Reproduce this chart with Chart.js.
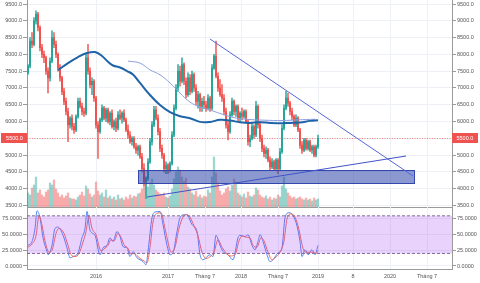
<!DOCTYPE html>
<html><head><meta charset="utf-8">
<script src="https://cdn.jsdelivr.net/npm/chart.js@4"></script>
<style>
html,body{margin:0;padding:0;background:#fff;}
#wrap{position:relative;width:480px;height:283px;overflow:hidden;background:#fff;}
#a{position:absolute;left:0;top:0;}
#b{position:absolute;left:0;top:207px;}
</style></head><body>
<div id="wrap"><canvas id="a" width="480" height="208"></canvas><canvas id="b" width="480" height="76"></canvas></div>
<script>
// ---------- data ----------
const opens=[7450,7650,8400,8300,9000,9200,8800,8200,8000,7900,
7500,7300,7800,8500,8300,8000,7600,7300,6900,6600,
6300,5900,6100,5850,5750,6150,6600,6450,6300,6250,
7900,7500,7100,7200,6700,5900,5700,6050,6400,6100,
6350,6000,6250,5850,6000,5800,6200,6100,6250,6050,
5750,5600,5400,5500,5250,5150,5250,4950,4600,4200,
4300,4800,5400,5900,6350,6100,5700,5200,5000,4600,
4700,4550,4750,5600,6400,7000,7500,7200,7700,7200,
6800,7300,6900,7400,7000,6600,6800,6450,6600,6500,
6400,6700,6400,7600,7950,7350,7000,6800,6700,6300,
5900,5700,6200,6600,6300,6450,6100,6250,6150,6300,
6000,5400,5500,5850,5600,6450,5900,5500,5200,5050,
5150,4850,4650,4800,4600,4850,4600,5100,5800,6400,
6700,6550,6300,6150,5900,6100,5750,5300,5150,5450,
5200,5400,5150,5250,5000,5250];
const highs=[7700,8500,8650,9100,9300,9250,8850,8300,8100,7950,
7600,7900,8700,8650,8400,8050,7700,7350,7000,6700,
6400,6150,6200,5950,6200,6700,6700,6550,6400,8000,
8300,7600,7300,7250,6750,6000,6100,6500,6450,6400,
6400,6300,6350,6050,6100,6300,6350,6300,6350,6100,
5900,5700,5550,5550,5350,5300,5300,5050,4750,4350,
4900,5500,6000,6450,6450,6200,5800,5300,5050,4800,
4750,4800,5700,6500,7100,7700,7650,7900,7750,7300,
7450,7400,7500,7450,7100,6900,6850,6700,6750,6600,
6800,6750,7700,8000,8400,7450,7250,7100,6800,6400,
6000,6300,6700,6650,6500,6500,6300,6400,6350,6350,
6050,5600,5950,5900,6600,6500,6000,5600,5300,5250,
5200,4950,4900,4850,4900,4900,5200,5900,6500,6900,
6850,6600,6400,6200,6200,6150,5800,5400,5500,5500,
5450,5450,5300,5300,5300,5600];
const lows=[7400,7600,8200,8250,8900,8700,8100,7900,7750,7400,
6850,7200,7750,8200,7900,7500,7200,6800,6500,6200,
5400,5800,5750,5650,5700,6100,6400,6200,6150,6200,
7400,7000,6800,6600,5800,4900,5650,6000,6050,6000,
5950,5900,5800,5750,5700,5750,6050,5950,6000,5700,
5500,5350,5300,5200,5050,5000,4900,4500,4100,3700,
4250,4750,5300,5850,6050,5600,5100,4900,4500,4450,
4450,4500,4700,5550,6350,6900,7050,7150,7100,6700,
6750,6800,6850,6900,6500,6400,6300,6300,6400,6300,
6350,6300,6350,7550,7300,6900,6750,6600,6200,5800,
5450,5650,6150,6200,6150,6000,6000,6050,6100,5950,
5300,5250,5450,5500,5550,5800,5400,5100,4950,4900,
4800,4550,4600,4550,4550,4450,4550,5050,5750,6350,
6450,6200,6050,5850,5850,5700,5200,5050,5100,5150,
5150,5100,5050,4950,4950,5200];
const closes=[7650,8400,8300,9000,9200,8800,8200,8000,7900,7500,
7300,7800,8500,8300,8000,7600,7300,6900,6600,6300,
5900,6100,5850,5750,6150,6600,6450,6300,6250,7900,
7500,7100,7200,6700,5900,5700,6050,6400,6100,6350,
6000,6250,5850,6000,5800,6200,6100,6250,6050,5750,
5600,5400,5500,5250,5150,5250,4950,4600,4200,4300,
4800,5400,5900,6350,6100,5700,5200,5000,4600,4700,
4550,4750,5600,6400,7000,7500,7200,7700,7200,6800,
7300,6900,7400,7000,6600,6800,6450,6600,6500,6400,
6700,6400,7600,7950,7350,7000,6800,6700,6300,5900,
5700,6200,6600,6300,6450,6100,6250,6150,6300,6000,
5400,5500,5850,5600,6450,5900,5500,5200,5050,5150,
4850,4650,4800,4600,4850,4600,5100,5800,6400,6700,
6550,6300,6150,5900,6100,5750,5300,5150,5450,5200,
5400,5150,5250,5000,5250,5500];
const volumes=[1.4,1.2,1.9,2.2,3.0,1.4,1.7,1.2,1.0,1.5,
1.7,2.4,2.2,2.7,1.8,1.4,1.0,1.2,0.9,1.1,
1.4,0.9,0.8,0.8,0.7,1.0,1.2,1.5,1.1,2.1,
1.8,1.3,1.0,1.2,2.5,1.6,1.2,1.4,1.0,1.7,
0.9,1.1,0.8,1.0,0.7,1.2,0.8,0.9,0.7,1.0,
0.8,1.2,0.9,1.1,1.0,1.3,1.4,1.8,2.2,2.7,
2.0,2.4,2.8,2.2,1.7,1.5,1.3,1.2,1.4,1.0,
0.9,1.1,1.8,2.8,3.5,4.0,3.7,3.0,2.6,2.9,
2.0,1.8,1.4,1.2,1.6,1.0,1.2,0.9,1.1,1.0,
1.7,1.4,3.0,5.0,3.4,2.4,1.6,1.2,1.4,1.8,
2.0,1.6,2.2,2.8,2.5,1.4,1.2,1.0,1.3,0.9,
1.5,1.1,1.0,1.2,1.9,1.7,1.2,1.0,0.9,1.1,
0.8,1.0,0.7,0.9,0.8,1.2,1.0,2.1,3.0,1.8,
1.4,1.1,0.9,1.0,0.8,0.9,1.0,0.8,0.7,0.9,
0.7,0.8,0.6,0.9,0.7,0.8];

const maIdx=[15,20,25,29.5,33.5,37,40,42.5,46,49.5,52.5,56,61,66,71,76,81,86,91,96,101,106,111,116,121,126,131,136,141,145];
const maVal=[7535,7740,7920,8040,8070,7950,7780,7670,7610,7505,7400,7150,6790,6490,6280,6160,6100,5990,5990,6050,6030,5980,5960,5980,5960,5950,5960,5970,6020,6040];
const thinIdx=[50,56,61,66,71,76,81,86,91,98.5,103.5,111,118.5,127,135,143.5];
const thinVal=[7800,7740,7540,7390,7150,6850,6580,6430,6340,6195,6110,6060,6040,6030,6050,6070];

const kIdx=[0,2,3.5,4.5,6,7.5,9.5,10,12,13.5,15,17.5,19.5,21,22.5,25,27,28.5,29.5,31,33.5,36,37.5,39.5,41,42.5,44.5,46,47.5,49.5,51,52.5,54.5,56,57.5,59,60,62,63.5,66,67.5,69.5,71,72.5,74.5,76,78.5,80,82,84.5,86,87.5,91,92.5,94,96,97.5,100,102.5,105,106,108.5,110,112,113.5,115,116,117.5,119.5,121,122.5,125,127,128.5,130.5,132.5,134.5,136,137,138.5,140,142,143.5,145];
const kVal=[33,39,60,88,77,45,23,18,33,60,62,49,29,13,15,21,45,60,87,57,49,18,29,33,45,39,55,47,31,29,15,23,13,10,7,2,23,77,86,87,66,33,18,21,55,77,82,80,66,55,18,10,18,15,49,33,23,18,10,45,49,47,50,33,26,39,50,39,18,7,10,21,29,77,85,80,64,39,15,26,18,26,18,33];
const dIdx=[0,2,4,5.5,7,8.5,10.5,12,14,15.5,18,20,21.5,23.5,25.5,27.5,29,30.5,32,34,36.5,38,40,41.5,43,45,46.5,48,50,51.5,53,55,56.5,58,59.5,61,62.5,64.5,66.5,68.5,70,71.5,73.5,75.5,77.5,79.5,81,83,85,87,89,91.5,93,95,97,99,101,103.5,105.5,107,109,111,112.5,114.5,116.5,118,120,122,123.5,126,128,129.5,131.5,133.5,135.5,137.5,139,140.5,142.5,144,145];
const dVal=[30,35,48,80,65,40,22,25,52,60,52,33,18,15,20,38,55,80,60,50,24,27,33,42,40,52,46,34,28,19,20,15,11,8,5,30,70,84,85,60,38,22,30,60,78,82,78,64,48,22,12,16,22,42,30,21,16,18,40,48,46,45,33,30,45,40,22,10,13,22,40,75,83,78,58,28,22,22,22,20,25];

const xTickIdx=[34,70,88.5,106.5,125,145,162.5,181,199.5];
const xTickLabels=['2016','2017','Tháng 7','2018','Tháng 7','2019','8','2020','Tháng 7'];
const priceTicks=[3500,4000,4500,5000,5500,6000,6500,7000,7500,8000,8500,9000,9500];
const stochTicks=[0,25,50,75];
const trendDown=[[91,8458],[192.5,4378]];
const trendUp=[[59.5,3752],[189,4973]];
const zoneBox={x0:55,x1:193,lo:4169,hi:4557};
const stochBand=[20,80];

// ---------- config ----------
Chart.defaults.font.family="'Liberation Sans', Arial, sans-serif";
Chart.defaults.font.size=5.5;
Chart.defaults.color='#555';

const X_MIN=-0.5, X_MAX=212;
const UP='#26a69a', DOWN='#ef5350';
const GRID='#edf1f5', AXIS='#9a9a9a';
const isUp=i=>closes[i]>=opens[i];
const fixY=w=>s=>{s.width=w;s.paddingTop=0;s.paddingBottom=0;};

function yAxis(pos,min,max,ticks,fmt){
  return {
    position:pos,min:min,max:max,
    afterBuildTicks:s=>{s.ticks=ticks.map(v=>({value:v}));},
    ticks:{callback:v=>v.toFixed(fmt),padding:1,color:'#555'},
    grid:{color:GRID,tickLength:4,tickColor:AXIS,drawOnChartArea:pos==='left'},
    border:{display:true,color:AXIS},
    afterFit:fixY(pos==='left'?27:28)
  };
}

const overlayA={
  id:'overlayA',
  beforeDatasetsDraw(chart){
    const {ctx,chartArea:a,scales}=chart;
    const py=scales.y.getPixelForValue(closes[closes.length-1]);
    ctx.save();
    ctx.strokeStyle='rgba(239,83,80,0.7)';ctx.lineWidth=1;ctx.setLineDash([1,1.5]);
    ctx.beginPath();ctx.moveTo(a.left,Math.round(py)+0.5);ctx.lineTo(a.right,Math.round(py)+0.5);ctx.stroke();
    ctx.restore();
  },
  afterDatasetDraw(chart,args){
    if(args.index!==4)return;
    const {ctx,scales}=chart;
    const x0=scales.x.getPixelForValue(zoneBox.x0),x1=scales.x.getPixelForValue(zoneBox.x1);
    const y0=scales.y.getPixelForValue(zoneBox.hi),y1=scales.y.getPixelForValue(zoneBox.lo);
    ctx.save();
    ctx.fillStyle='rgba(45,70,170,0.55)';
    ctx.fillRect(x0,y0,x1-x0,y1-y0);
    ctx.strokeStyle='#3347ad';ctx.lineWidth=1;
    ctx.strokeRect(Math.round(x0)+0.5,Math.round(y0)+0.5,Math.round(x1-x0),Math.round(y1-y0));
    ctx.restore();
  },
  afterDraw(chart){
    const {ctx,chartArea:a,scales}=chart;
    const last=closes[closes.length-1];
    const py=Math.round(scales.y.getPixelForValue(last));
    ctx.save();
    ctx.fillStyle=DOWN;
    ctx.fillRect(1,py-5,a.left-1,10);
    ctx.fillRect(a.right,py-5,26,10);
    ctx.fillStyle='#fff';ctx.font="5.5px 'Liberation Sans', Arial, sans-serif";
    ctx.textBaseline='middle';ctx.textAlign='center';
    ctx.fillText(last.toFixed(1),(a.left+1)/2+0.5,py);
    ctx.textAlign='left';
    ctx.fillText(last.toFixed(1),a.right+4.5,py);
    ctx.restore();
  }
};

const idxSeq=closes.map((c,i)=>i);
new Chart(document.getElementById('a'),{
  data:{datasets:[
    {type:'bar',label:'vol',yAxisID:'yv',order:9,grouped:false,barThickness:1.6,
     data:idxSeq.map(i=>({x:i,y:volumes[i]})),
     backgroundColor:idxSeq.map(i=>isUp(i)?'rgba(38,166,154,0.45)':'rgba(239,83,80,0.45)')},
    {type:'bar',label:'wick',yAxisID:'y',order:8,grouped:false,barThickness:0.8,
     data:idxSeq.map(i=>({x:i,y:[lows[i],highs[i]]})),
     backgroundColor:idxSeq.map(i=>isUp(i)?UP:DOWN)},
    {type:'bar',label:'body',yAxisID:'y',order:7,grouped:false,barThickness:1.3,
     data:idxSeq.map(i=>({x:i,y:[opens[i],closes[i]]})),
     backgroundColor:idxSeq.map(i=>isUp(i)?UP:DOWN)},
    {type:'line',label:'ma2',yAxisID:'y',order:6,data:thinIdx.map((x,i)=>({x:x,y:thinVal[i]})),
     borderColor:'#8d9fe0',borderWidth:1,pointRadius:0,tension:0.4},
    {type:'line',label:'ma1',yAxisID:'y',order:5,data:maIdx.map((x,i)=>({x:x,y:maVal[i]})),
     borderColor:'#1f63a9',borderWidth:2,pointRadius:0,tension:0.4},
    {type:'line',label:'down',yAxisID:'y',order:3,data:trendDown.map(p=>({x:p[0],y:p[1]})),
     borderColor:'#5566d8',borderWidth:1,pointRadius:0},
    {type:'line',label:'up',yAxisID:'y',order:2,data:trendUp.map(p=>({x:p[0],y:p[1]})),
     borderColor:'#3f52c8',borderWidth:1,pointRadius:0}
  ]},
  options:{
    responsive:false,animation:false,devicePixelRatio:1,events:[],
    layout:{padding:{top:0,bottom:1,left:0,right:0}},
    plugins:{legend:{display:false},tooltip:{enabled:false}},
    scales:{
      x:{type:'linear',min:X_MIN,max:X_MAX,offset:false,
        afterBuildTicks:s=>{s.ticks=xTickIdx.map(v=>({value:v}));},
        ticks:{display:false},grid:{color:GRID,drawTicks:false,offset:false},
        border:{display:true,color:AXIS},
        afterFit:s=>{s.height=0;s.paddingLeft=0;s.paddingRight=0;}},
      y:yAxis('left',3455,9620,priceTicks,1),
      yr:yAxis('right',3455,9620,priceTicks,1),
      yv:{display:false,min:0,max:20.7}
    }
  },
  plugins:[overlayA]
});

new Chart(document.getElementById('b'),{
  type:'line',
  data:{datasets:[
    {label:'hi',data:[{x:X_MIN,y:stochBand[1]},{x:X_MAX,y:stochBand[1]}],borderColor:'#7e6f8e',borderWidth:1,borderDash:[3,2],pointRadius:0,fill:'+1',backgroundColor:'rgba(160,60,240,0.23)'},
    {label:'lo',data:[{x:X_MIN,y:stochBand[0]},{x:X_MAX,y:stochBand[0]}],borderColor:'#7e6f8e',borderWidth:1,borderDash:[3,2],pointRadius:0,fill:false},
    {label:'D',data:dIdx.map((x,i)=>({x:x,y:dVal[i]})),borderColor:'#f26b5b',borderWidth:1,pointRadius:0,cubicInterpolationMode:'monotone',fill:false},
    {label:'K',data:kIdx.map((x,i)=>({x:x,y:kVal[i]})),borderColor:'#4f86f0',borderWidth:1,pointRadius:0,cubicInterpolationMode:'monotone',fill:false}
  ]},
  options:{
    responsive:false,animation:false,devicePixelRatio:1,events:[],
    layout:{padding:0},
    plugins:{legend:{display:false},tooltip:{enabled:false}},
    scales:{
      x:{type:'linear',min:X_MIN,max:X_MAX,offset:false,
        afterBuildTicks:s=>{s.ticks=xTickIdx.map(v=>({value:v}));},
        ticks:{callback:(v,i)=>xTickLabels[i],autoSkip:false,maxRotation:0,padding:4,color:'#555'},
        grid:{color:GRID,drawTicks:false},
        border:{display:true,color:AXIS},
        afterFit:s=>{s.height=14;s.paddingLeft=0;s.paddingRight=0;}},
      y:yAxis('left',-4.8,94.1,stochTicks,4),
      yr:yAxis('right',-4.8,94.1,stochTicks,4)
    }
  }
});
</script>
</body></html>
